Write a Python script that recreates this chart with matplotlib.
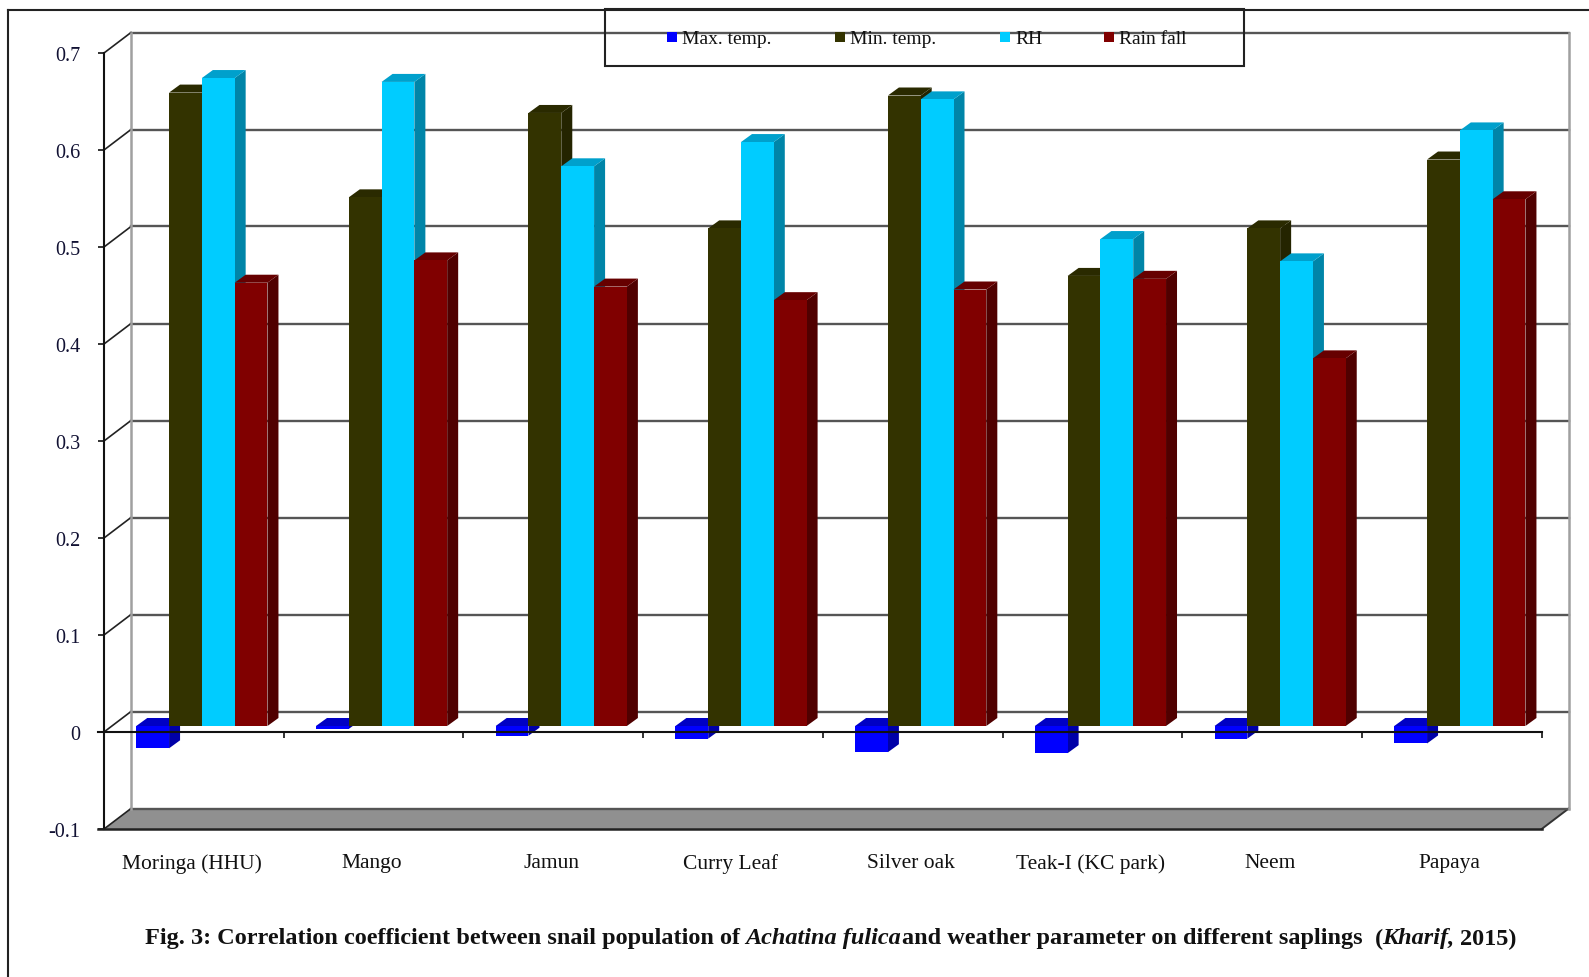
import matplotlib
matplotlib.use("Agg")
import matplotlib.pyplot as plt
from matplotlib.patches import Polygon, Rectangle

plt.rcParams['font.family'] = ['Liberation Serif', 'DejaVu Serif']

# values
categories = ['Moringa (HHU)', 'Mango', 'Jamun', 'Curry Leaf', 'Silver oak', 'Teak-I (KC park)', 'Neem', 'Papaya']
max_temp = [-0.023, -0.003, -0.010, -0.013, -0.027, -0.028, -0.013, -0.018]
min_temp = [0.653, 0.545, 0.632, 0.513, 0.650, 0.464, 0.513, 0.584]
rh = [0.668, 0.664, 0.577, 0.602, 0.646, 0.502, 0.479, 0.614]
rain_fall = [0.457, 0.480, 0.453, 0.439, 0.450, 0.461, 0.379, 0.543]
y_ticks = [-0.1, 0, 0.1, 0.2, 0.3, 0.4, 0.5, 0.6, 0.7]
y_tick_labels = ['-0.1', '0', '0.1', '0.2', '0.3', '0.4', '0.5', '0.6', '0.7']

series_names = ['Max. temp.', 'Min. temp.', 'RH', 'Rain fall']
series_values = [max_temp, min_temp, rh, rain_fall]
# front, side, top
series_colors = [('#0000ff', '#0000a8', '#0000c4'),
                 ('#333300', '#242400', '#2a2a00'),
                 ('#00ccff', '#0085a8', '#00a0cc'),
                 ('#800000', '#500000', '#660000')]

W, H = 1589, 978
fig = plt.figure(figsize=(W / 100, H / 100), dpi=100)
fig.patch.set_facecolor('white')
ax = fig.add_axes([104 / W, 1 - 830 / H, (1541.7 - 104) / W, 776 / H])
ax.set_xlim(0, 8)
ax.set_ylim(-0.1, 0.7)
ax.patch.set_alpha(0)

# pixels to data units
px_x = 8 / (1541.7 - 104)
px_y = 0.8 / 776
wall_dx, wall_dy = 27 * px_x, 20.5 * px_y
bar_dx, bar_dy = 11 * px_x, 8 * px_y
off_x, off_y = 8 * px_x, 6 * px_y
bar_w = 32.8 * px_x
grid_col = '#555555'

# back wall, side wall and floor
ax.add_patch(Polygon([(0, -0.1), (8, -0.1), (8 + wall_dx, -0.1 + wall_dy), (wall_dx, -0.1 + wall_dy)],
                     fc='#909090', ec='none', clip_on=False, zorder=1))
ax.plot([8, 8 + wall_dx], [-0.1, -0.1 + wall_dy], color='#333333', lw=1.4, clip_on=False, zorder=1)
for t in y_ticks:
    ax.plot([wall_dx, 8 + wall_dx], [t + wall_dy, t + wall_dy], color=grid_col, lw=1.7,
            clip_on=False, zorder=1)
    ax.plot([0, wall_dx], [t, t + wall_dy], color='#222222', lw=1.2, clip_on=False, zorder=1)
for xp in [wall_dx, 8 + wall_dx]:
    ax.plot([xp, xp], [-0.1 + wall_dy, 0.7 + wall_dy], color='#a0a0a0', lw=1.8, clip_on=False, zorder=1)

# bars, back to front in series order
for g in range(len(categories)):
    for s, vals in enumerate(series_values):
        v = vals[g]
        x0 = g + 0.135 + s * bar_w + off_x
        y0 = off_y
        front, side, top = series_colors[s]
        ax.add_patch(Polygon([(x0 + bar_w, y0), (x0 + bar_w + bar_dx, y0 + bar_dy),
                              (x0 + bar_w + bar_dx, y0 + v + bar_dy), (x0 + bar_w, y0 + v)],
                             fc=side, ec='none', clip_on=False, zorder=3))
        top_y = y0 + max(v, 0)
        ax.add_patch(Polygon([(x0, top_y), (x0 + bar_w, top_y), (x0 + bar_w + bar_dx, top_y + bar_dy),
                              (x0 + bar_dx, top_y + bar_dy)],
                             fc=top, ec='none', clip_on=False, zorder=3))
        ax.bar(x0, v, bar_w, bottom=y0, align='edge', color=front, linewidth=0, clip_on=False, zorder=3)

# axes
for name in ['top', 'right']:
    ax.spines[name].set_visible(False)
ax.spines['left'].set_color('#111111')
ax.spines['left'].set_linewidth(1.5)
ax.spines['bottom'].set_position(('data', 0))
ax.spines['bottom'].set_color('#111111')
ax.spines['bottom'].set_linewidth(1.5)
ax.spines['bottom'].set_zorder(4)
ax.plot([-6 * px_x, 8], [-0.1, -0.1], color='#222222', lw=1.8, clip_on=False, zorder=4)
ax.plot([-6 * px_x, 0], [0, 0], color='#111111', lw=1.5, clip_on=False, zorder=4)
ax.set_xticks(range(9))
ax.set_xticklabels([])
ax.tick_params(axis='x', direction='out', length=4.5, width=1.2, color='#111111')
ax.set_yticks(y_ticks)
ax.set_yticklabels(y_tick_labels, fontsize=14.5, color='#111133')
ax.tick_params(axis='y', direction='out', length=4.5, width=1.2, color='#111111', pad=12.5)

for g, name in enumerate(categories):
    ax.text(g + 0.5 - 2 * px_x, -0.1 - 34 * px_y, name, ha='center', va='center',
            fontsize=15.5, color='#111111')

# legend box and outer border, in figure pixels
def fx(p):
    return p / W

def fy(p):
    return 1 - p / H

fig.add_artist(plt.Line2D([fx(7.5), fx(7.5)], [fy(10.5), 0], color='#222222', lw=1.5))
fig.add_artist(plt.Line2D([fx(7.5), 1], [fy(10.5), fy(10.5)], color='#222222', lw=1.5))
fig.add_artist(Rectangle((fx(605), fy(67)), fx(639), 57 / H, fc='none', ec='#222222', lw=1.5,
                         transform=fig.transFigure, zorder=6))
marker_x = [667, 835, 1000, 1104]
text_x = [682, 850, 1015, 1119]
for s, name in enumerate(series_names):
    fig.add_artist(Rectangle((fx(marker_x[s]), fy(43)), 10 / W, 10 / H, fc=series_colors[s][0],
                             ec='none', transform=fig.transFigure, zorder=6))
    fig.text(fx(text_x[s]), fy(39), name, fontsize=14, color='#111111', va='center', ha='left', zorder=7)

# caption, bold with italic pieces
parts = [('Fig. 3: Correlation coefficient between snail population of', 'normal', 5),
         ('Achatina fulica', 'italic', 1),
         ('and weather parameter on different saplings', 'normal', 12),
         ('(', 'normal', 0),
         ('Kharif,', 'italic', 5),
         ('2015)', 'normal', 0)]
renderer = fig.canvas.get_renderer()
cur = 145.0
for txt, style, gap in parts:
    t = fig.text(fx(cur), fy(939), txt, fontsize=17.5, fontweight='bold', fontstyle=style,
                 color='#111111', va='center', ha='left')
    cur = t.get_window_extent(renderer).x1 + gap

fig.savefig('out.png', dpi=100)
